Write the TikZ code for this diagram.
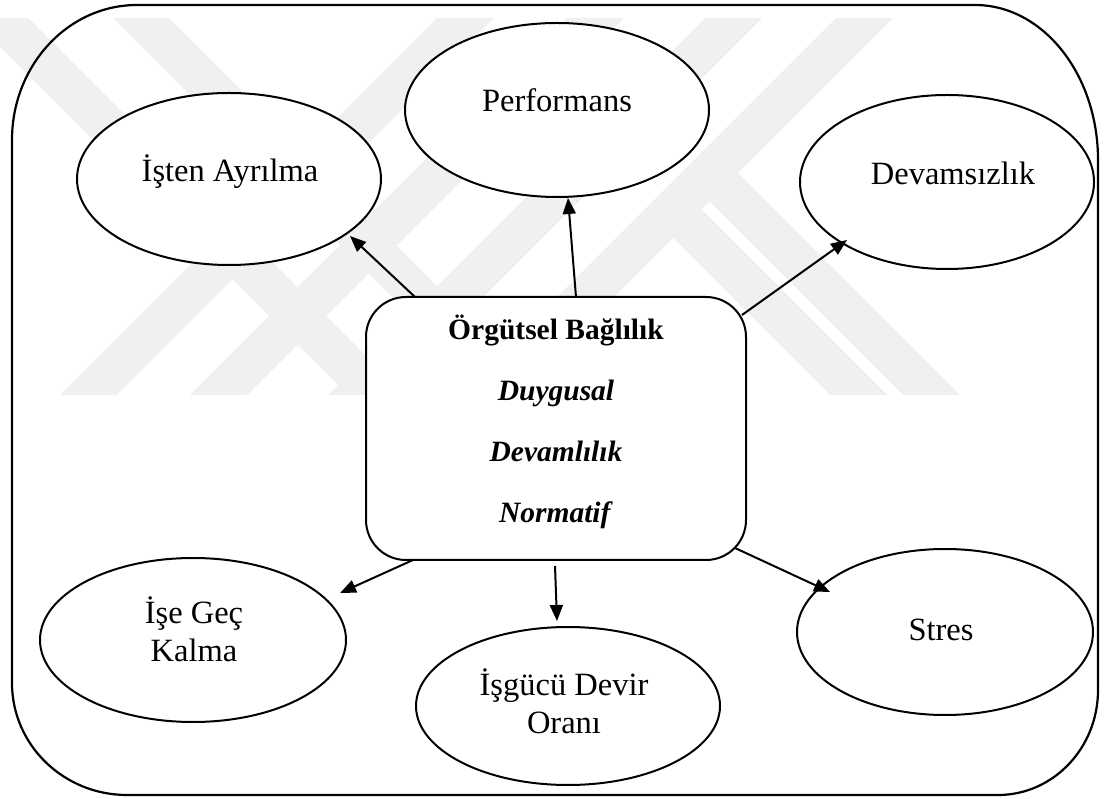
\documentclass[tikz,border=0pt]{standalone}
\usepackage{fontspec}
\setmainfont{Liberation Serif}
\usetikzlibrary{shapes.geometric,arrows.meta,calc}

\begin{document}
\begin{tikzpicture}[x=1pt,y=1pt,
  wmband/.style={fill=black!6, draw=none},
  frame/.style={line width=2.2pt},
  bubble/.style={ellipse, draw, line width=2pt, fill=white, inner sep=0pt},
  bubbletext/.style={font=\fontsize{32.5}{38}\selectfont, align=center, inner sep=0pt},
  corebox/.style={draw, rectangle, rounded corners=40pt, line width=2pt, fill=white,
                  minimum width=380pt, minimum height=263pt},
  boxtext/.style={font=\fontsize{29.5}{61}\selectfont\bfseries, align=center, inner sep=0pt},
  link/.style={line width=2pt, -{Triangle[length=16pt,width=13pt]}}
]
\useasboundingbox (0,0) rectangle (1105,798);

% faint background bands
\fill[wmband] (-29,780) -- (28,780) -- (405,403) -- (348,403) -- cycle;
\fill[wmband] (113,780) -- (169,780) -- (546,403) -- (490,403) -- cycle;
\fill[wmband] (437,780) -- (494,780) -- (117,403) -- (60,403) -- cycle;
\fill[wmband] (567,780) -- (624,780) -- (247,403) -- (190,403) -- cycle;
\fill[wmband] (705,780) -- (762,780) -- (385,403) -- (328,403) -- cycle;
\fill[wmband] (836,780) -- (893,780) -- (516,403) -- (459,403) -- cycle;
\fill[wmband] (658.75,574.25) -- (687.25,602.75) -- (887,403) -- (830,403) -- cycle;
\fill[wmband] (695.25,610.75) -- (723.75,639.25) -- (960,403) -- (903,403) -- cycle;

% outer frame with large rounded corners
\draw[frame] (137,793) -- (975,793)
  arc[start angle=90, end angle=0, x radius=123, y radius=155] -- (1098,108)
  arc[start angle=0, end angle=-90, x radius=100, y radius=105] -- (127,3)
  arc[start angle=270, end angle=180, x radius=115, y radius=112] -- (12,658)
  arc[start angle=180, end angle=90, x radius=125, y radius=135] -- cycle;

% outcome ellipses
\node[bubble, minimum width=304pt, minimum height=172pt,
      label={[bubbletext, xshift=1pt, yshift=7pt]center:{İşten Ayrılma}}] (isten) at (229,619) {};
\node[bubble, minimum width=304pt, minimum height=174pt,
      label={[bubbletext, yshift=10pt]center:{Performans}}] (perf) at (557,688) {};
\node[bubble, minimum width=294pt, minimum height=174pt,
      label={[bubbletext, xshift=6pt, yshift=9pt]center:{Devamsızlık}}] (devam) at (947,616) {};
\node[bubble, minimum width=306pt, minimum height=164pt,
      label={[bubbletext, xshift=1pt, yshift=11pt]center:{İşe Geç\\Kalma}}] (gec) at (193,158) {};
\node[bubble, minimum width=304pt, minimum height=158pt,
      label={[bubbletext, xshift=-4pt, yshift=5pt]center:{İşgücü Devir\\Oranı}}] (isgucu) at (568,92) {};
\node[bubble, minimum width=296pt, minimum height=166pt,
      label={[bubbletext, xshift=-4pt, yshift=2pt]center:{Stres}}] (stres) at (945,166) {};

% central construct
\node[corebox, label={[boxtext, yshift=7pt]center:{Örgütsel Bağlılık\\\textit{Duygusal}\\\textit{Devamlılık}\\\textit{Normatif}}}]
  (core) at (556,369.5) {};

% arrows from the construct to its outcomes
\draw[link] ($(core.center)+(-141,131.5)$) -- ($(isten.center)+(121,-57)$);
\draw[link] ($(core.center)+(20,131.5)$) -- ($(perf.center)+(11,-88)$);
\draw[link] ($(core.center)+(186,113.5)$) -- ($(devam.center)+(-100,-58)$);
\draw[link] ($(core.center)+(-143,-131.5)$) -- ($(gec.center)+(147,47)$);
\draw[link] ($(core.center)+(-1,-137.5)$) -- ($(isgucu.center)+(-11,85)$);
\draw[link] ($(core.center)+(179,-119.5)$) -- ($(stres.center)+(-115,40)$);
\end{tikzpicture}
\end{document}
